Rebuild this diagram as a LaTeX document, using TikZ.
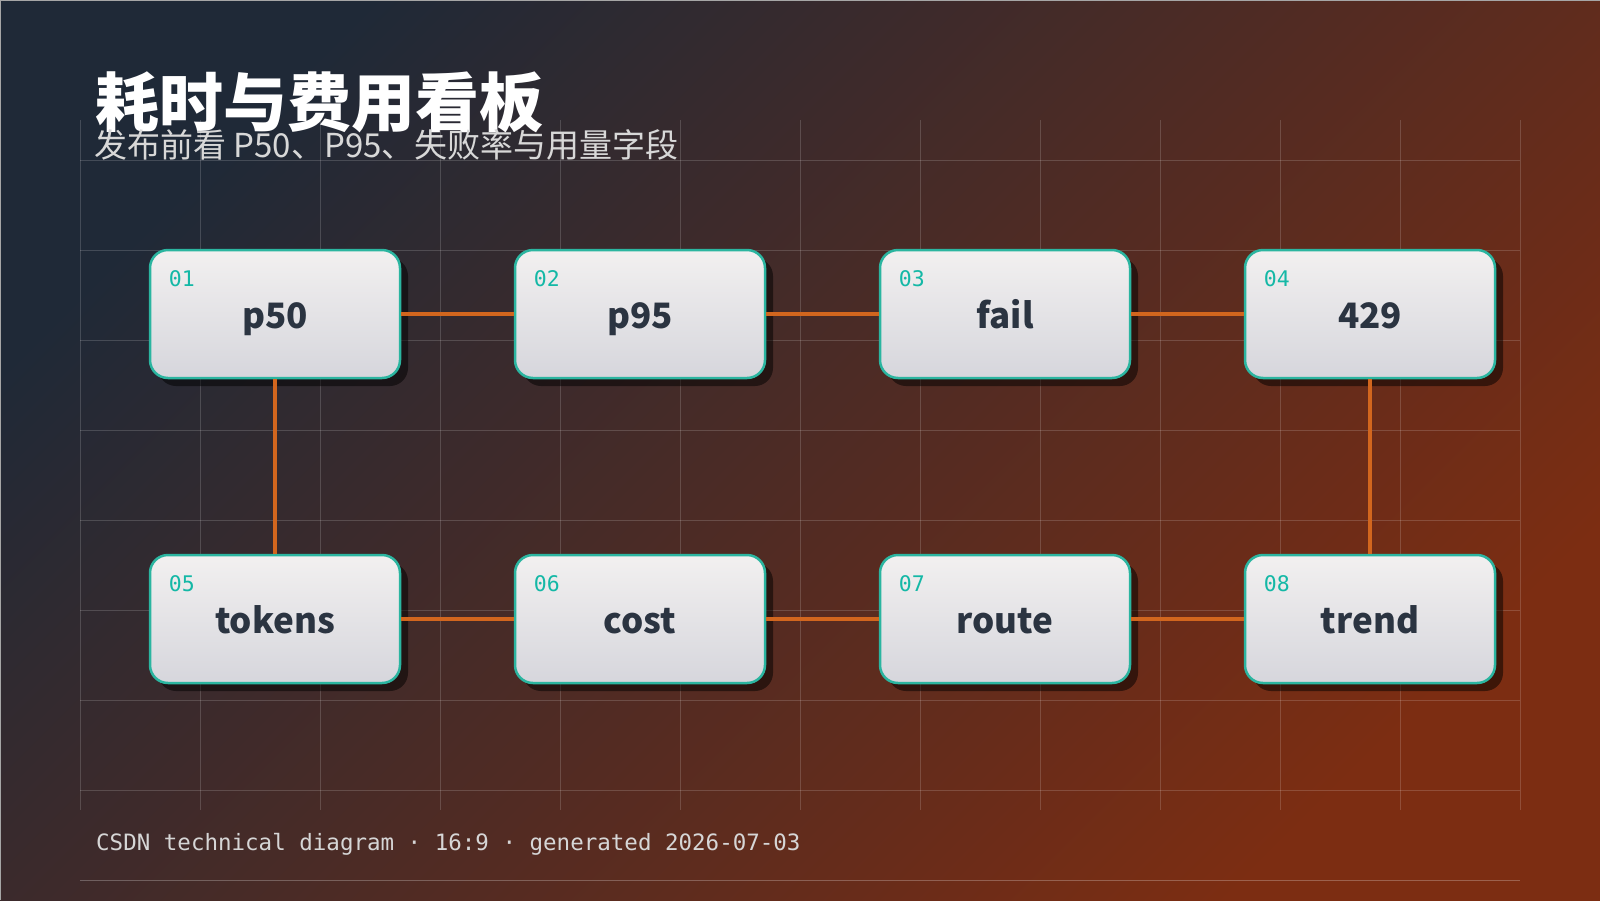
\documentclass[tikz,border=0pt]{standalone}
\usepackage{fontspec}
\setmainfont{Noto Sans}
\setmonofont{DejaVu Sans Mono}
\newfontfamily\cjk{Noto Sans CJK SC}
\usetikzlibrary{shadows}

\definecolor{bgdark}{HTML}{1F2937}
\definecolor{bgrust}{HTML}{7C2D12}
\definecolor{tealline}{HTML}{2BB5A0}
\definecolor{tealtext}{HTML}{14B8A6}
\definecolor{linkorange}{HTML}{D2661E}
\definecolor{cardtop}{HTML}{F2F0F0}
\definecolor{cardbot}{HTML}{D6D6DC}
\definecolor{inktext}{HTML}{2B3441}
\definecolor{subgray}{HTML}{D8D8D8}
\definecolor{footgray}{HTML}{D6D6D6}

\tikzset{
  metric/.style={draw=tealline, line width=2.5pt, rounded corners=18pt,
    top color=cardtop, bottom color=cardbot,
    minimum width=250pt, minimum height=128pt,
    drop shadow={shadow xshift=8pt, shadow yshift=-8pt, opacity=0.5, fill=black},
    font=\cjk\bfseries\fontsize{35}{40}\selectfont, text=inktext,
    text height=29pt, text depth=0pt},
  idx/.style={anchor=base west, inner sep=0pt, text=tealtext,
    font=\ttfamily\fontsize{21.5}{24}\selectfont},
  link/.style={draw=linkorange, line width=4.5pt},
  gridline/.style={draw=white, draw opacity=0.16, line width=1pt}
}

\begin{document}
\begin{tikzpicture}[x=1pt, y=-1pt]
 \useasboundingbox (0,0) rectangle (1600,900);
 % background
 \shade[top color=bgdark, bottom color=bgrust, shading angle=45] (0,0) rectangle (1600,900);
 \draw[gray!70, line width=2pt] (0,900) -- (0,0) -- (1600,0);
 % grid
 \foreach \gx in {80,200,...,1520}
  \draw[gridline] (\gx,120) -- (\gx,810);
 \foreach \gy in {160,250,...,790}
  \draw[gridline] (80,\gy) -- (1520,\gy);
 \draw[draw=white, draw opacity=0.25, line width=1pt] (80,880) -- (1520,880);
 % heading
 \node[anchor=base west, inner sep=0pt, text=white,
   font=\cjk\bfseries\fontsize{64}{70}\selectfont] (title) at (95,126) {耗时与费用看板};
 \node[anchor=base west, inner sep=0pt, text=subgray,
   font=\cjk\fontsize{33}{38}\selectfont] (subtitle) at (94,157) {发布前看 P50、P95、失败率与用量字段};
 % cards
 \foreach \i/\txt/\x/\y in {01/p50/275/314, 02/p95/640/314, 03/fail/1005/314, 04/429/1370/314,
   05/tokens/275/619, 06/cost/640/619, 07/route/1005/619, 08/trend/1370/619} {
  \node[metric] (n\i) at (\x,\y) {\txt};
  \node[idx] (i\i) at ([xshift=20pt,yshift=-38pt]n\i.north west) {\i};
 }
 % links
 \draw[link] (n01.east) -- (n02.west);
 \draw[link] (n02.east) -- (n03.west);
 \draw[link] (n03.east) -- (n04.west);
 \draw[link] (n01.south) -- (n05.north);
 \draw[link] (n04.south) -- (n08.north);
 \draw[link] (n05.east) -- (n06.west);
 \draw[link] (n06.east) -- (n07.west);
 \draw[link] (n07.east) -- (n08.west);
 % footer
 \node[anchor=base west, inner sep=0pt, text=footgray,
   font=\ttfamily\fontsize{22.5}{26}\selectfont] (footer) at (96,850)
   {CSDN technical diagram · 16:9 · generated 2026-07-03};
\end{tikzpicture}
\end{document}
